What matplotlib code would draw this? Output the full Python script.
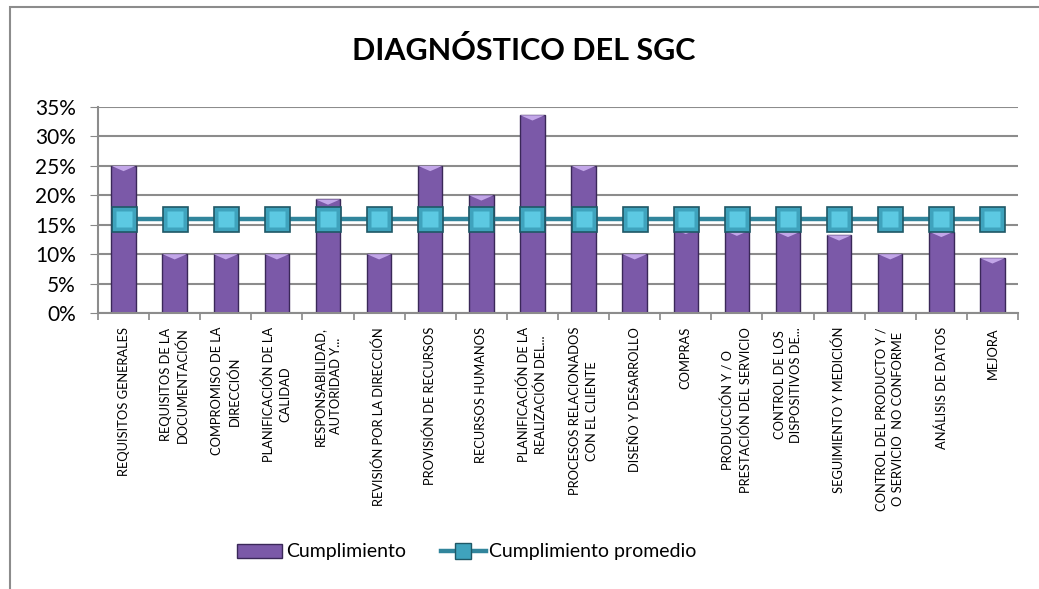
import numpy as np
import matplotlib
matplotlib.use("Agg")
from matplotlib import pyplot as plt
from matplotlib.patches import Rectangle, Polygon, Patch
from matplotlib.lines import Line2D
from matplotlib.ticker import PercentFormatter

plt.rcParams["font.family"] = ["Lato", "DejaVu Sans"]

categorias = [
    "REQUISITOS GENERALES",
    "REQUISITOS DE LA\nDOCUMENTACIÓN",
    "COMPROMISO DE LA\nDIRECCIÓN",
    "PLANIFICACIÓN DE LA\nCALIDAD",
    "RESPONSABILIDAD,\nAUTORIDAD Y...",
    "REVISIÓN POR LA DIRECCIÓN",
    "PROVISIÓN DE RECURSOS",
    "RECURSOS HUMANOS",
    "PLANIFICACIÓN DE LA\nREALIZACIÓN DEL...",
    "PROCESOS RELACIONADOS\nCON EL CLIENTE",
    "DISEÑO Y DESARROLLO",
    "COMPRAS",
    "PRODUCCIÓN Y / O\nPRESTACIÓN DEL SERVICIO",
    "CONTROL DE LOS\nDISPOSITIVOS DE...",
    "SEGUIMIENTO Y MEDICIÓN",
    "CONTROL DEL PRODUCTO Y /\nO SERVICIO  NO CONFORME",
    "ANÁLISIS DE DATOS",
    "MEJORA",
]
cumplimiento = [25.0, 10.0, 10.0, 10.0, 19.3, 10.0, 25.0, 20.0, 33.6,
                25.0, 10.0, 14.3, 14.0, 13.8, 13.2, 10.0, 13.8, 9.3]
promedio = [16.0] * len(categorias)
yticks = [0, 5, 10, 15, 20, 25, 30, 35]

fig = plt.figure(figsize=(10.39, 5.89), dpi=100)
ax = fig.add_axes([98 / 1039, 1 - 313 / 589, 920 / 1039, 206 / 589])

x = np.arange(len(categorias))
w = 0.48

# barras con bisel claro arriba
ax.bar(x, cumplimiento, width=w, color="#7B59A8", edgecolor="#3A2858",
       linewidth=1.0, zorder=2)
for xi, v in zip(x, cumplimiento):
    tri = Polygon([[xi - w / 2, v], [xi + w / 2, v], [xi, v - 0.9]],
                  closed=True, facecolor="#C2A6E8", edgecolor="none", zorder=3)
    ax.add_patch(tri)

# linea de promedio
ax.plot(x, promedio, color="#31859C", linewidth=3.2, marker="s",
        markersize=18, markerfacecolor="#3FA3BD", markeredgecolor="#1F5866",
        markeredgewidth=1.2, zorder=4)
ax.plot(x, promedio, linestyle="none", marker="s", markersize=11,
        markerfacecolor="#5CC9E2", markeredgecolor="none", zorder=5)

ax.set_xlim(-0.5, len(categorias) - 0.5)
ax.set_ylim(0, 35)
ax.set_yticks(yticks)
ax.yaxis.set_major_formatter(PercentFormatter(decimals=0))
ax.tick_params(axis="y", labelsize=15, length=6, color="#888888", pad=10)

ax.set_xticks(x)
ax.set_xticklabels(categorias, rotation=90, fontsize=9.3, va="top",
                   ha="center", multialignment="center", linespacing=1.45)
ax.tick_params(axis="x", which="major", length=0, pad=10)
ax.set_xticks(np.arange(len(categorias) + 1) - 0.5, minor=True)
ax.tick_params(axis="x", which="minor", length=5, color="#888888", width=1.2)

ax.grid(axis="y", color="#8C8C8C", linewidth=1.5, zorder=0)
ax.set_axisbelow(True)
for s in ["top", "right"]:
    ax.spines[s].set_visible(False)
for s in ["left", "bottom"]:
    ax.spines[s].set_color("#8C8C8C")
    ax.spines[s].set_linewidth(1.5)

fig.text(524 / 1039, 1 - 51 / 589, "DIAGNÓSTICO DEL SGC", fontsize=22,
         fontweight="bold", ha="center", va="center")

h_bar = Patch(facecolor="#7B59A8", edgecolor="#3A2858", label="Cumplimiento")
h_lin = Line2D([], [], color="#31859C", linewidth=3.2, marker="s",
               markersize=12, markerfacecolor="#3FA3BD",
               markeredgecolor="#1F5866", label="Cumplimiento promedio")
fig.legend(handles=[h_bar, h_lin], loc="center",
           bbox_to_anchor=(467 / 1039, 1 - 552 / 589),
           ncol=2, frameon=False, fontsize=14, handlelength=2.3,
           handleheight=0.7, columnspacing=1.8, handletextpad=0.2)

# borde del grafico
fig.patches.append(Rectangle((10 / 1039, -0.1), 1.2, 1.1 - 7 / 589,
                             transform=fig.transFigure, fill=False,
                             edgecolor="#8C8C8C", linewidth=1.5))

fig.savefig("out.png", dpi=100)
